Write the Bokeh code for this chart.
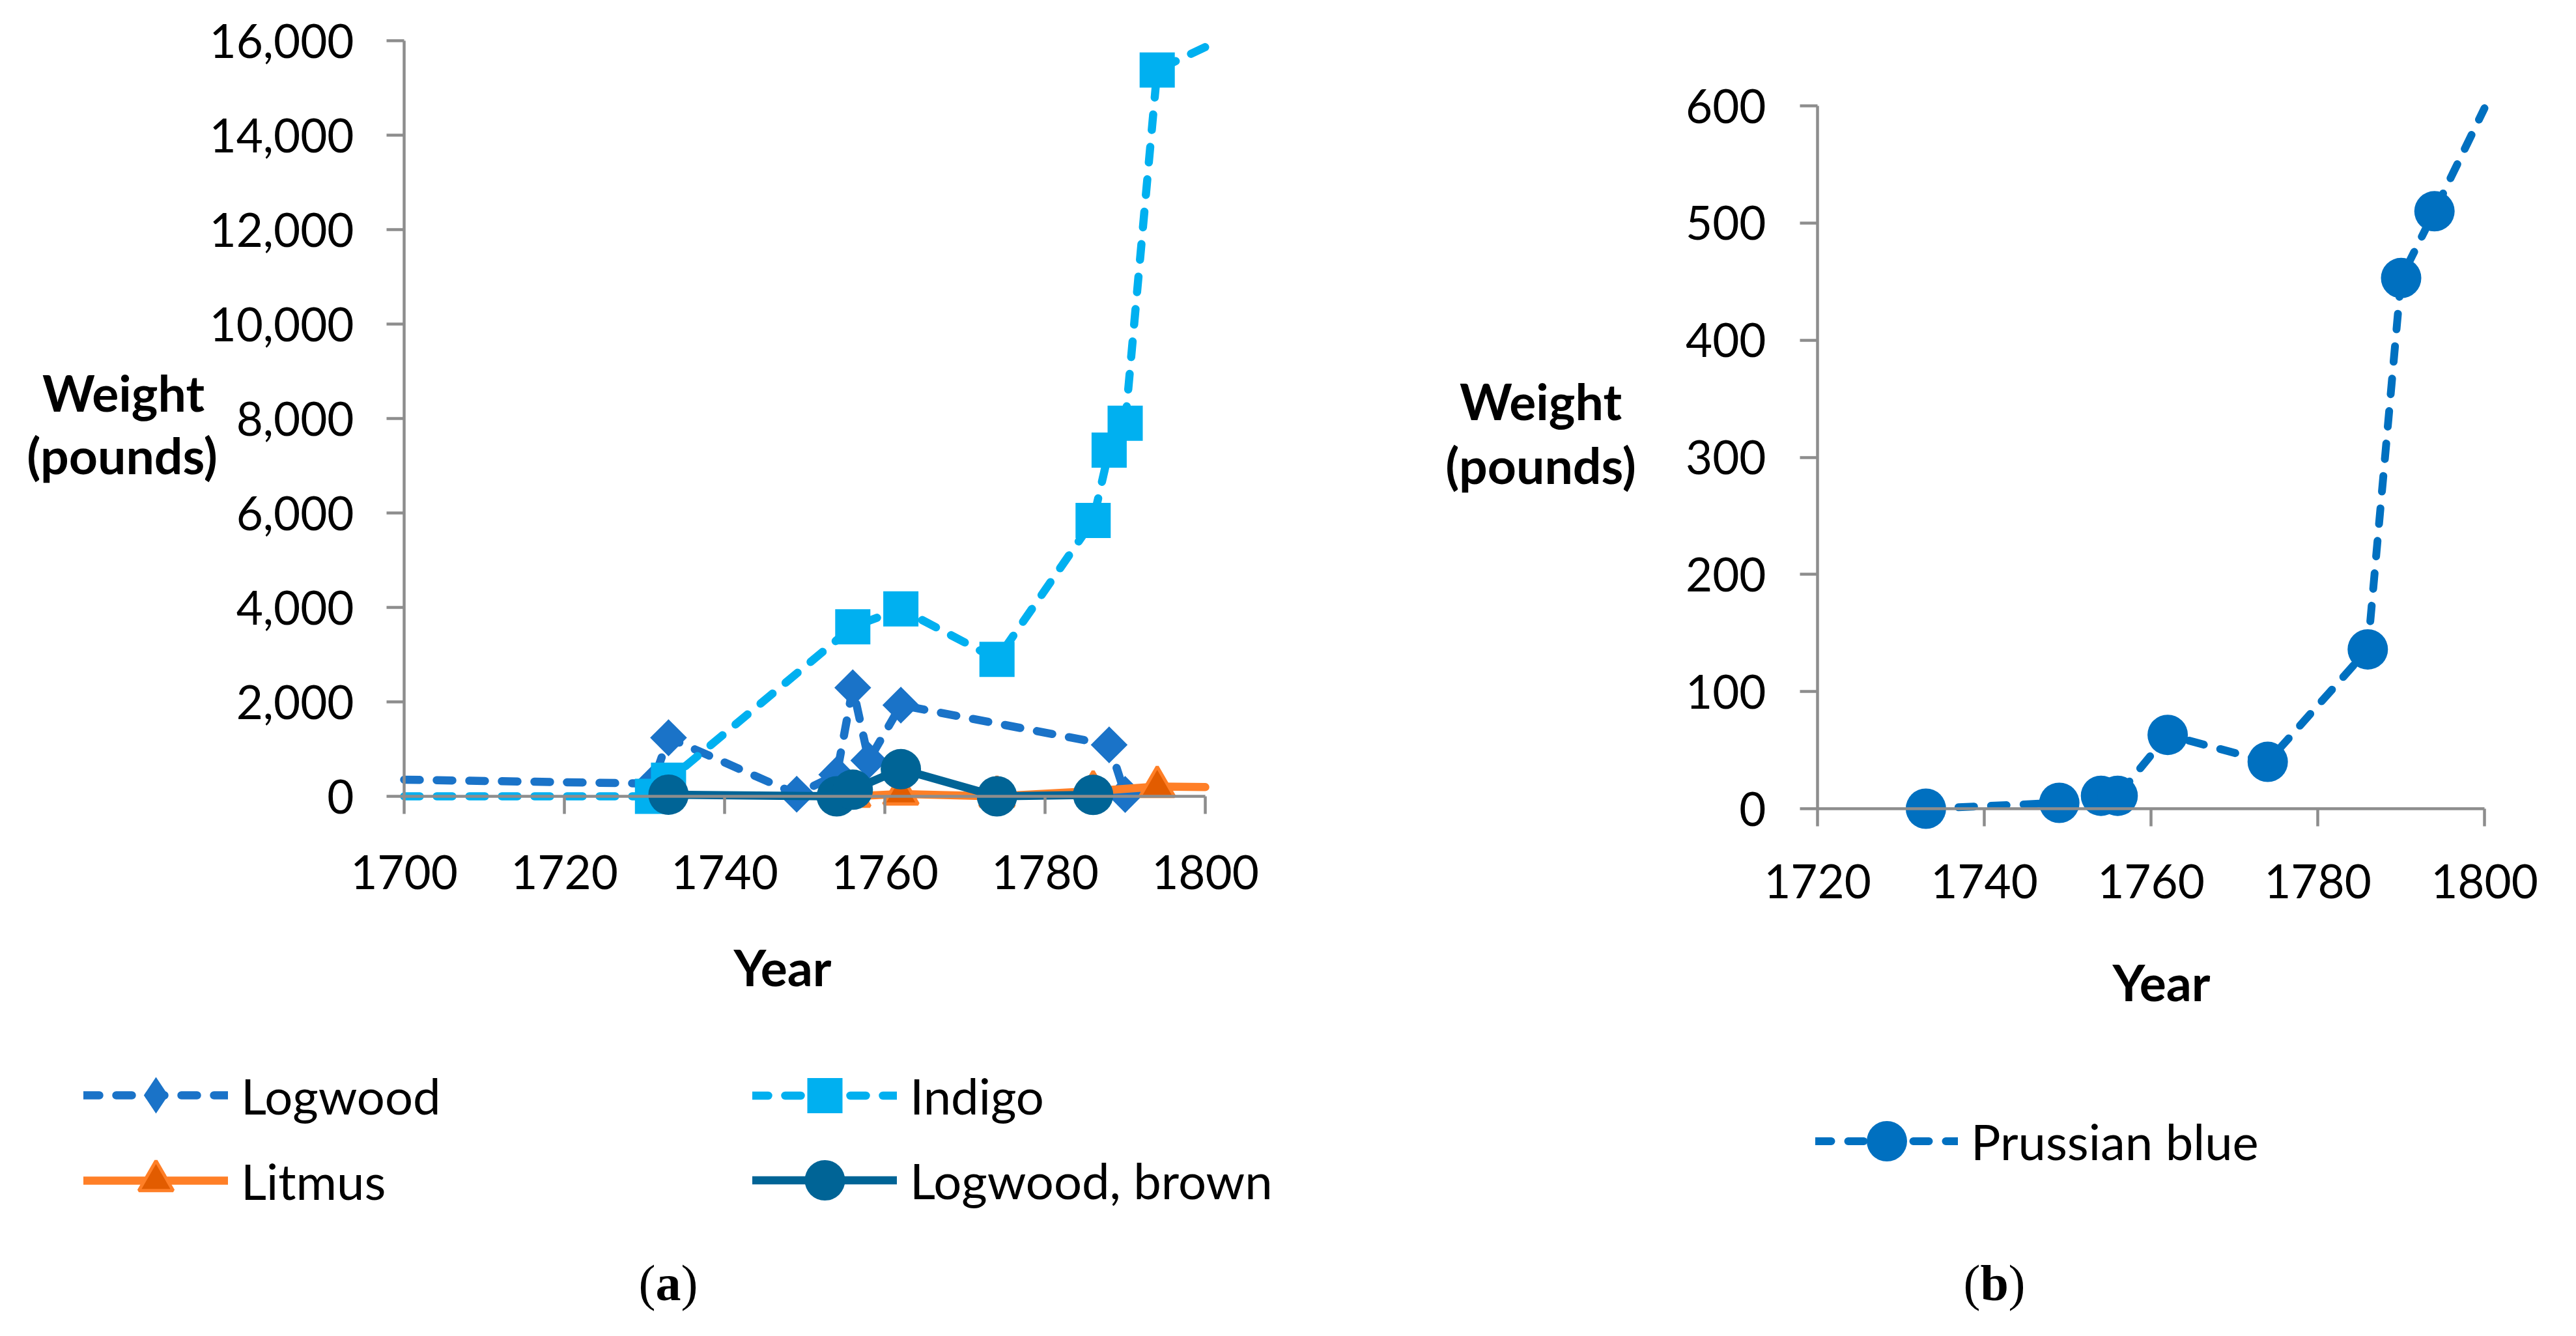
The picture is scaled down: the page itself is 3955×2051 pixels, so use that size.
import math
from bokeh.plotting import figure
from bokeh.layouts import row
from bokeh.models import (Range1d, FixedTicker, NumeralTickFormatter, Label, Legend, LegendItem,
                          ColumnDataSource, CDSView, IndexFilter)
from bokeh.embed import file_html
from bokeh.resources import INLINE

# ---------------- data ----------------
a_xticks = [1700, 1720, 1740, 1760, 1780, 1800]
a_yticks = [0, 2000, 4000, 6000, 8000, 10000, 12000, 14000, 16000]
b_xticks = [1720, 1740, 1760, 1780, 1800]
b_yticks = [0, 100, 200, 300, 400, 500, 600]

# first / last values at 1700 and 1800 are where the lines meet the plot edges (no marker there)
logwood_year = [1700, 1731, 1733, 1749, 1754, 1756, 1758, 1762, 1788, 1790]
logwood_lbs = [352, 270, 1240, 45, 460, 2300, 760, 1930, 1090, 40]

indigo_year = [1700, 1731, 1733, 1756, 1762, 1774, 1786, 1788, 1790, 1794, 1800]
indigo_lbs = [0, 0, 340, 3590, 3970, 2900, 5840, 7330, 7900, 15380, 15866]

litmus_year = [1756, 1762, 1774, 1786, 1794, 1800]
litmus_lbs = [0, 50, 0, 110, 207, 195]

brown_year = [1733, 1754, 1756, 1762, 1774, 1786]
brown_lbs = [35, 0, 140, 575, 0, 30]

prussian_year = [1733, 1749, 1754, 1756, 1762, 1774, 1786, 1790, 1794, 1800]
prussian_lbs = [0, 5, 11, 11, 63, 40, 136, 453, 510, 598]

# ---------------- styling ----------------
AXIS_C = "#8D8D8D"
C_LOG = "#1A73C8"
C_IND = "#00B0F0"
C_LIT = "#FF7F27"
C_LIT_FILL = "#E25C00"
C_BRN = "#006496"
C_PRU = "#0070C0"
DASH = "24 26"
LW = 12.5
FONT = "Lato"
PAGE_TOP = 8
PAGE_BOTTOM = 2043
TXT_DY = 23   # baseline correction (px)
TXT_DX = 7


def style_axes(p, x0, y0, xb, yb, xstand, ystand):
    p.outline_line_color = None
    p.xgrid.visible = False
    p.ygrid.visible = False
    for ax in p.axis:
        ax.axis_line_color = AXIS_C
        ax.axis_line_width = 4.5
        ax.major_tick_line_color = AXIS_C
        ax.major_tick_line_width = 4.5
        ax.major_tick_out = 27
        ax.major_tick_in = 0
        ax.minor_tick_line_color = None
        ax.major_label_text_font = FONT
        ax.major_label_text_font_size = "71px"
        ax.major_label_text_color = "black"
    p.xaxis.major_label_standoff = xstand
    p.yaxis.major_label_standoff = ystand
    p.xaxis.fixed_location = y0
    p.yaxis.fixed_location = x0
    p.xaxis.bounds = xb
    p.yaxis.bounds = yb


def add_label(p, x, y, text, size, bold=False, font=FONT, align="center"):
    p.add_layout(Label(x=x, y=y, text=text, text_font=font,
                       text_font_size=f"{size}px",
                       text_font_style="bold" if bold else "normal",
                       text_align=align, text_baseline="alphabetic",
                       text_color="black"))


def add_legend(p, text, renderers, gh, gw, vx, vy):
    lg = Legend(items=[LegendItem(label=text, renderers=renderers)],
                location=(int(round(vx)), int(round(vy))), glyph_width=int(gw),
                glyph_height=int(round(gh)),
                label_standoff=20, padding=0, margin=0, spacing=0,
                border_line_color=None, background_fill_alpha=0,
                label_text_font=FONT, label_text_font_size="76px",
                label_text_color="black")
    p.add_layout(lg)


def series(p, xs, ys, lo, hi, line_kw, marker_kw, key_kw=None):
    src = ColumnDataSource(dict(x=xs, y=ys))
    inner = [i for i, v in enumerate(xs) if lo < v < hi]
    ln = p.line("x", "y", source=src, line_cap="round", line_join="round", **line_kw)
    key = None
    if key_kw is not None:
        # legend key, fully hidden under the plotted markers
        key = p.scatter("x", "y", source=src, view=CDSView(filter=IndexFilter(indices=inner)),
                        **key_kw)
    sc = p.scatter("x", "y", source=src, view=CDSView(filter=IndexFilter(indices=inner)),
                   **marker_kw)
    return ln, (key if key is not None else sc)


# ---------------- panel (a) ----------------
A_W = 1990
A_LEFT_PAGE = 8
A_PX_X = 12.3      # px per year
A_PX_Y = 0.0725    # px per pound
A_AXIS_X = 628     # page x of year 1700
A_ZERO = 1230      # page y of 0 lb


def ax_(X):
    return 1700 + (X - A_AXIS_X) / A_PX_X


def ay_(Y):
    return (A_ZERO - Y) / A_PX_Y


pa = figure(width=A_W, height=PAGE_BOTTOM - PAGE_TOP, output_backend="svg", toolbar_location=None,
            x_range=Range1d(ax_(A_LEFT_PAGE), ax_(A_LEFT_PAGE + A_W)),
            y_range=Range1d(ay_(PAGE_BOTTOM), ay_(PAGE_TOP)),
            min_border=0)
pa.xaxis.ticker = FixedTicker(ticks=a_xticks)
pa.yaxis.ticker = FixedTicker(ticks=a_yticks)
pa.yaxis.formatter = NumeralTickFormatter(format="0,0")
style_axes(pa, 1700, 0, (1700, 1800), (0, 16000), 63, 50)

l_log, s_log = series(pa, logwood_year, logwood_lbs, 1700, 1800,
                      dict(line_color=C_LOG, line_width=LW, line_dash=DASH),
                      dict(marker="square", angle=math.pi / 4, size=40, fill_color=C_LOG, line_color=None),
                      key_kw=dict(marker="diamond", size=56, fill_color=C_LOG, line_color=None))
l_ind, s_ind = series(pa, indigo_year, indigo_lbs, 1700, 1800,
                      dict(line_color=C_IND, line_width=LW, line_dash=DASH),
                      dict(marker="square", size=54, fill_color=C_IND, line_color=None))
l_lit, s_lit = series(pa, litmus_year, litmus_lbs, 1700, 1800,
                      dict(line_color=C_LIT, line_width=LW),
                      dict(marker="triangle", size=53, fill_color=C_LIT_FILL, line_color=C_LIT,
                           line_width=5))
l_brn, s_brn = series(pa, brown_year, brown_lbs, 1700, 1800,
                      dict(line_color=C_BRN, line_width=LW),
                      dict(marker="circle", size=62, fill_color=C_BRN, line_color=None))

add_label(pa, ax_(190 + TXT_DX), ay_(632 - TXT_DY), "Weight", 77, bold=True)
add_label(pa, ax_(188 + TXT_DX), ay_(728 - TXT_DY), "(pounds)", 77, bold=True)
add_label(pa, ax_(1202 + TXT_DX), ay_(1514 - TXT_DY), "Year", 77, bold=True)
add_label(pa, ax_(988), ay_(2000 - TXT_DY), "(", 78, font="Liberation Serif", align="left")
add_label(pa, ax_(1014), ay_(2000 - TXT_DY), "a", 78, bold=True, font="Liberation Serif", align="left")
add_label(pa, ax_(1053), ay_(2000 - TXT_DY), ")", 78, font="Liberation Serif", align="left")


def a_leg(text, rends, gh, left, cy):
    add_legend(pa, text, rends, gh, 222, left - A_LEFT_PAGE, PAGE_BOTTOM - (cy + gh / 2))


a_leg("Logwood", [l_log, s_log], 140, 136, 1689)
a_leg("Indigo", [l_ind, s_ind], 135, 1163, 1689)
a_leg("Litmus", [l_lit, s_lit], 132, 136, 1820)
a_leg("Logwood, brown", [l_brn, s_brn], 155, 1163, 1820)

# ---------------- panel (b) ----------------
B_LEFT_PAGE = A_LEFT_PAGE + A_W
B_W = 1949
B_PX_X = 12.8
B_PX_Y = 1079 / 600
B_AXIS_X = 2798
B_ZERO = 1249


def bx_(X):
    return 1720 + (X - B_AXIS_X) / B_PX_X


def by_(Y):
    return (B_ZERO - Y) / B_PX_Y


pb = figure(width=B_W, height=PAGE_BOTTOM - PAGE_TOP, output_backend="svg", toolbar_location=None,
            x_range=Range1d(bx_(B_LEFT_PAGE), bx_(B_LEFT_PAGE + B_W)),
            y_range=Range1d(by_(PAGE_BOTTOM), by_(PAGE_TOP)),
            min_border=0)
pb.xaxis.ticker = FixedTicker(ticks=b_xticks)
pb.yaxis.ticker = FixedTicker(ticks=b_yticks)
style_axes(pb, 1720, 0, (1720, 1800), (0, 600), 58, 52)

l_pru, s_pru = series(pb, prussian_year, prussian_lbs, 1720, 1800,
                      dict(line_color=C_PRU, line_width=12, line_dash=DASH),
                      dict(marker="circle", size=62, fill_color=C_PRU, line_color=None))

add_label(pb, bx_(2366 + TXT_DX), by_(645 - TXT_DY), "Weight", 77, bold=True)
add_label(pb, bx_(2366 + TXT_DX), by_(743 - TXT_DY), "(pounds)", 77, bold=True)
add_label(pb, bx_(3319 + TXT_DX), by_(1537 - TXT_DY), "Year", 77, bold=True)
add_label(pb, bx_(3022), by_(2000 - TXT_DY), "(", 78, font="Liberation Serif", align="left")
add_label(pb, bx_(3048), by_(2000 - TXT_DY), "b", 78, bold=True, font="Liberation Serif", align="left")
add_label(pb, bx_(3091), by_(2000 - TXT_DY), ")", 78, font="Liberation Serif", align="left")

add_legend(pb, "Prussian blue", [l_pru, s_pru], 155, 219,
           2795 - B_LEFT_PAGE, PAGE_BOTTOM - (1759 + 155 / 2))

layout = row(pa, pb)
open("out.html", "w").write(file_html(layout, INLINE))
